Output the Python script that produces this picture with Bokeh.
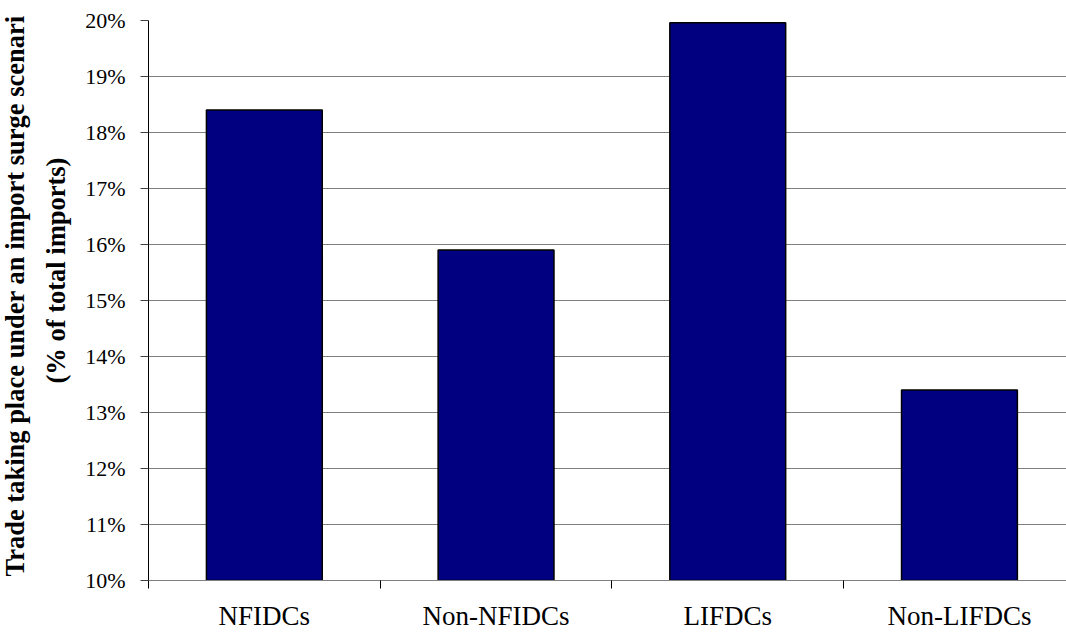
from bokeh.plotting import figure
from bokeh.models import FixedTicker, Range1d, Title
from bokeh.embed import file_html
from bokeh.resources import INLINE

categories = ["NFIDCs", "Non-NFIDCs", "LIFDCs", "Non-LIFDCs"]
values = [18.4, 15.9, 19.96, 13.4]
y_ticks = [10, 11, 12, 13, 14, 15, 16, 17, 18, 19, 20]
y_tick_labels = ["10%", "11%", "12%", "13%", "14%", "15%", "16%", "17%", "18%", "19%", "20%"]
y_title_1 = "Trade taking place under an import surge scenari"
y_title_2 = "(% of total imports)"

FONT = "Liberation Serif"
positions = list(range(len(categories)))

p = figure(width=1066, height=633, output_backend="svg", toolbar_location=None,
           x_range=Range1d(-0.5, 3.462), y_range=Range1d(y_ticks[0], y_ticks[-1]),
           min_border_left=148, min_border_right=0, min_border_top=20, min_border_bottom=53)
p.outline_line_color = None
p.background_fill_color = "white"
p.border_fill_color = "white"

p.vbar(x=positions, top=values, bottom=y_ticks[0], width=0.5,
       fill_color="#000080", line_color="black", line_width=1.5)

# y axis
ya = p.yaxis[0]
ya.ticker = FixedTicker(ticks=y_ticks)
ya.major_label_overrides = {t: l for t, l in zip(y_ticks, y_tick_labels)}
ya.major_tick_out = 8
ya.major_tick_in = 0
ya.major_tick_line_color = "#404040"
ya.minor_tick_line_color = None
ya.axis_line_color = "black"
ya.major_label_standoff = 15
ya.major_label_text_font = FONT
ya.major_label_text_font_size = "22px"
ya.major_label_text_color = "black"

# x axis
xa = p.xaxis[0]
xa.ticker = FixedTicker(ticks=positions, minor_ticks=[-0.5, 0.5, 1.5, 2.5, 3.5])
xa.major_label_overrides = {i: c for i, c in zip(positions, categories)}
xa.major_tick_line_color = None
xa.major_tick_out = 8
xa.major_tick_in = 0
xa.minor_tick_out = 8
xa.minor_tick_in = 0
xa.minor_tick_line_color = "black"
xa.axis_line_color = "#7f7f7f"
xa.major_label_standoff = 12
xa.major_label_text_font = FONT
xa.major_label_text_font_size = "27px"
xa.major_label_text_color = "black"

p.xgrid.visible = False
p.ygrid.ticker = FixedTicker(ticks=y_ticks)
p.ygrid.grid_line_color = "#7f7f7f"
p.ygrid.grid_line_alpha = 1.0

for txt, so, off in [(y_title_2, 24, 197), (y_title_1, -6, 4)]:
    p.add_layout(Title(text=txt, align="left", offset=off, standoff=so,
                       text_font=FONT, text_font_style="bold", text_font_size="26.5px",
                       text_color="black"), "left")

open("out.html", "w").write(file_html(p, INLINE))
